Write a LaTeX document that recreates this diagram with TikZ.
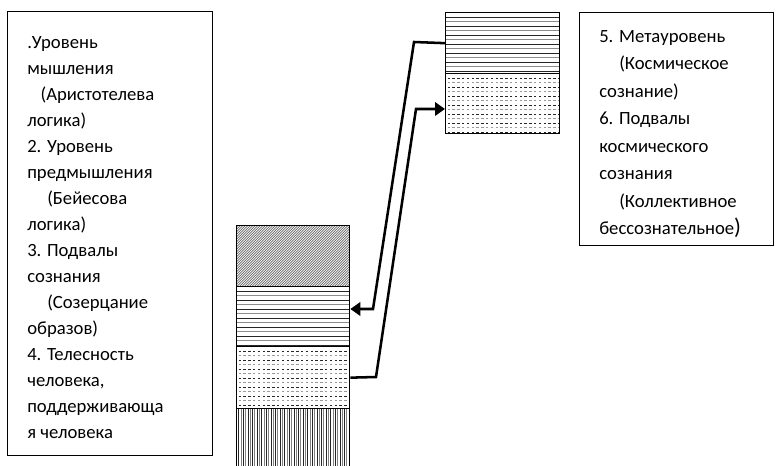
\documentclass[tikz,border=0pt]{standalone}
\usepackage{fontspec}
\setmainfont{Carlito}
\usetikzlibrary{arrows.meta,calc}
\begin{document}
\begin{tikzpicture}[x=0.75pt,y=-0.75pt,
  box/.style={draw,line width=1.1pt,inner sep=0pt,anchor=north west},
  sec/.style={draw,line width=1pt,inner sep=0pt,anchor=north west},
  txt/.style={inner sep=0pt,anchor=north west,align=left},
  link/.style={line width=1.9pt,-{Triangle[length=7.5pt,width=10pt]}},
  diagpat/.style={path picture={
    \foreach \k in {-70,-67.5,...,130}
      \draw[line width=0.45pt,black!60] ($(path picture bounding box.south west)+(\k,0)$) -- ++(70,-70);}},
  hpat/.style={path picture={
    \foreach \k in {4.5,13.5,...,64}
      \draw[line width=0.65pt,black!85] ($(path picture bounding box.north west)+(0,\k)$) -- ++(130,0);
    \foreach \k in {9,18,...,64}
      \draw[line width=0.5pt,black!45] ($(path picture bounding box.north west)+(0,\k)$) -- ++(130,0);}},
  dpat/.style={path picture={
    \foreach \k in {4.5,13.5,...,64}
      \draw[line width=0.8pt,black!85,dash pattern=on 1.8pt off 1.8pt] ($(path picture bounding box.north west)+(2,\k)$) -- ++(130,0);
    \foreach \k in {9,18,...,64}
      \draw[line width=0.6pt,black!40,dash pattern=on 1.8pt off 1.8pt] ($(path picture bounding box.north west)+(2,\k)$) -- ++(130,0);}},
  vpat/.style={path picture={
    \foreach \k in {2,6.6,...,120}
      \draw[line width=0.55pt,black!85] ($(path picture bounding box.north west)+(\k,0)$) -- ++(0,80);
    \foreach \k in {4.3,8.9,...,120}
      \draw[line width=0.5pt,black!50] ($(path picture bounding box.north west)+(\k,0)$) -- ++(0,80);}}
]
\useasboundingbox (0,0) rectangle (778,466);

% text boxes
\node[box,minimum width=153.75pt,minimum height=333pt] (LB) at (7,11) {};
\node[txt,font=\fontsize{14}{19.5}\selectfont] (LT) at (27,36) {.Уровень\\
мышления\\
\hspace*{10pt}(Аристотелева\\
логика)\\
2. Уровень\\
предмышления\\
\hspace*{15pt}(Бейесова\\
логика)\\
3. Подвалы\\
сознания\\
\hspace*{15pt}(Созерцание\\
образов)\\
4. Телесность\\
человека,\\
поддерживающа\\
я человека};

\node[box,minimum width=145.5pt,minimum height=174.75pt] (RB) at (579,12) {};
\node[txt,font=\fontsize{14}{20.6}\selectfont] (RT) at (599,30) {5. Метауровень\\
\hspace*{15pt}(Космическое\\
сознание)\\
6. Подвалы\\
космического\\
сознания\\
\hspace*{15pt}(Коллективное\\
бессознательное{\fontsize{17}{20}\selectfont)}};

% left stack
\node[sec,diagpat,minimum width=84.75pt,minimum height=45.75pt] (L1) at (236,225) {};
\node[sec,hpat,minimum width=84.75pt,minimum height=45pt] (L2) at (236,286) {};
\node[sec,dpat,minimum width=84.75pt,minimum height=46.5pt] (L3) at (236,346) {};
\node[sec,vpat,minimum width=84.75pt,minimum height=46.5pt] (L4) at (236,408) {};

% right stack
\node[sec,hpat,minimum width=85.5pt,minimum height=45.75pt] (R5) at (445,12) {};
\node[sec,dpat,minimum width=85.5pt,minimum height=45pt] (R6) at (445,73) {};

% connectors
\coordinate (k1) at (414,42);
\coordinate (k2) at (373,309);
\coordinate (k3) at (376,377);
\coordinate (k4) at (416,109);
\draw[link] (R5.west) -- (k1) -- (k2) -- (k2 -| L2.east);
\draw[link] (L3.east) -- (k3) -- (k4) -- (k4 -| R6.west);
\end{tikzpicture}
\end{document}
